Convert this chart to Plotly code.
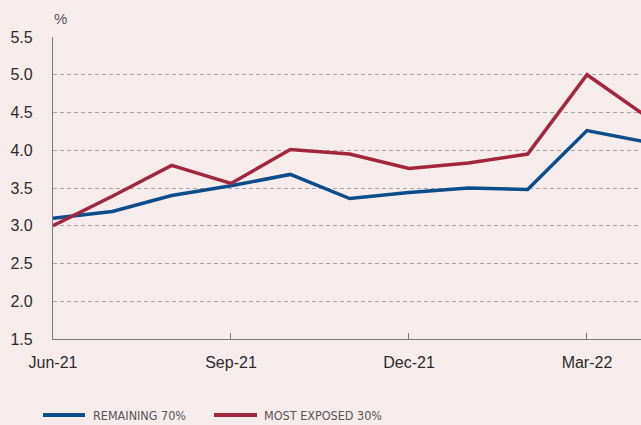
import plotly.graph_objects as go

months = ["Jun-21", "Jul-21", "Aug-21", "Sep-21", "Oct-21", "Nov-21",
          "Dec-21", "Jan-22", "Feb-22", "Mar-22", "Apr-22"]
remaining_70 = [3.10, 3.19, 3.40, 3.53, 3.68, 3.36, 3.44, 3.50, 3.48, 4.26, 4.11]
most_exposed_30 = [3.00, 3.39, 3.80, 3.56, 4.01, 3.95, 3.76, 3.83, 3.95, 5.00, 4.45]
tick_labels = ["Jun-21", "Sep-21", "Dec-21", "Mar-22"]
y_ticks = [1.5, 2.0, 2.5, 3.0, 3.5, 4.0, 4.5, 5.0, 5.5]

BLUE = "#0B4D8C"
RED = "#A3263F"
BG = "#F7ECEC"
W, H = 641, 425
L, T, B = 53, 37, 86
R = 0

x_idx = list(range(len(months)))
tick_idx = [months.index(t) for t in tick_labels]

fig = go.Figure()
fig.add_trace(go.Scatter(x=x_idx, y=remaining_70, mode="lines",
                         line=dict(color=BLUE, width=3.5), name="REMAINING 70%",
                         showlegend=False))
fig.add_trace(go.Scatter(x=x_idx, y=most_exposed_30, mode="lines",
                         line=dict(color=RED, width=3.5), name="MOST EXPOSED 30%",
                         showlegend=False))

plot_w = W - L - R
px_per_month = 59.33
x_max = plot_w / px_per_month

fig.update_layout(
    width=W, height=H,
    margin=dict(l=L, r=R, t=T, b=B),
    paper_bgcolor=BG, plot_bgcolor=BG,
    font=dict(family="Liberation Sans, Arial, sans-serif", color="#2b2b2b", size=16),
    xaxis=dict(range=[0, x_max], tickmode="array", tickvals=tick_idx, ticktext=tick_labels,
               showgrid=False, zeroline=False, showline=True, linecolor="#7a7a7a",
               linewidth=1.3, ticks="inside", ticklen=6, tickcolor="#7a7a7a",
               tickfont=dict(size=16, color="#2b2b2b"), ticklabelstandoff=9),
    yaxis=dict(range=[1.5, 5.5], tickmode="array", tickvals=y_ticks,
               ticktext=[f"{v:.1f}" for v in y_ticks],
               showgrid=True, gridcolor="#aaa4a4", griddash="4px,3px", gridwidth=1,
               zeroline=False, showline=True, linecolor="#7a7a7a", linewidth=1.3,
               ticks="", tickfont=dict(size=16, color="#2b2b2b"), ticklabelstandoff=16),
)

def px_x(p):
    return (p - L) / plot_w

def px_y(p):
    return (H - B - p) / (H - T - B)

# "%" unit label
fig.add_annotation(x=px_x(52), y=px_y(19), xref="paper", yref="paper", text="%",
                   showarrow=False, xanchor="left", yanchor="middle",
                   font=dict(size=15, color="#555555"))

# manual legend
legend_y = 415
for (x0, x1, tx, col, lab) in [(43, 85, 91, BLUE, "REMAINING 70%"),
                                (214, 257, 262, RED, "MOST EXPOSED 30%")]:
    fig.add_shape(type="line", xref="paper", yref="paper",
                  x0=px_x(x0), x1=px_x(x1), y0=px_y(legend_y), y1=px_y(legend_y),
                  line=dict(color=col, width=4))
    fig.add_annotation(x=px_x(tx), y=px_y(legend_y), xref="paper", yref="paper",
                       text=lab, showarrow=False, xanchor="left", yanchor="middle",
                       font=dict(family="DejaVu Sans Condensed, Liberation Sans, Arial",
                                 size=12.5, color="#555555"))

fig.write_html("out.html", config={"displayModeBar": False},
               post_script="document.body.style.margin='0';document.body.style.padding='0';")
